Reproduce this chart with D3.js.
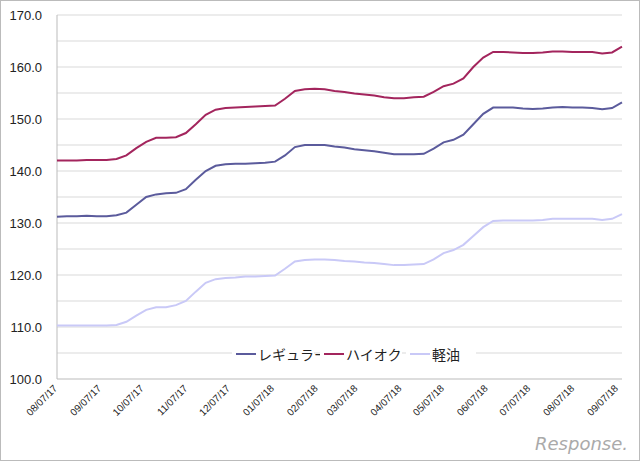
<!DOCTYPE html>
<html><head><meta charset="utf-8">
<script src="https://cdn.jsdelivr.net/npm/d3@7"></script>
<style>body{margin:0;background:#fff}svg{display:block}</style>
</head><body><svg id="c" width="640" height="461"></svg>
<script>
// weekly prices starting 2017-08-07
const startDate = new Date(2017, 7, 7);
const regular = [131.2,131.3,131.3,131.4,131.3,131.3,131.5,132.0,133.5,135.0,135.5,135.7,135.8,136.5,138.3,140.0,141.0,141.3,141.4,141.4,141.5,141.6,141.8,143.0,144.6,145.0,145.0,145.0,144.7,144.5,144.2,144.0,143.8,143.5,143.2,143.2,143.2,143.3,144.3,145.5,146.0,147.0,149.0,151.0,152.2,152.2,152.2,152.0,151.9,152.0,152.2,152.3,152.2,152.2,152.1,151.9,152.1,153.2];
const highOctane = [142.0,142.0,142.0,142.1,142.1,142.1,142.3,143.0,144.4,145.6,146.4,146.4,146.5,147.3,149.0,150.8,151.8,152.1,152.2,152.3,152.4,152.5,152.6,153.9,155.4,155.7,155.8,155.7,155.4,155.2,154.9,154.7,154.5,154.2,154.0,154.0,154.2,154.3,155.2,156.3,156.8,157.8,160.0,161.8,162.9,162.9,162.8,162.7,162.7,162.8,163.0,163.0,162.9,162.9,162.9,162.6,162.8,163.9];
const diesel = [110.3,110.3,110.3,110.3,110.3,110.3,110.4,111.0,112.2,113.3,113.8,113.8,114.2,115.0,116.8,118.5,119.2,119.4,119.5,119.7,119.7,119.8,119.9,121.2,122.6,122.9,123.0,123.0,122.9,122.7,122.6,122.4,122.3,122.1,121.9,121.9,122.0,122.1,123.0,124.2,124.8,125.8,127.5,129.2,130.4,130.5,130.5,130.5,130.5,130.6,130.8,130.8,130.8,130.8,130.8,130.6,130.8,131.7];
const seriesNames = ["レギュラー", "ハイオク", "軽油"];
const colors = ["#5b5b9c", "#a3255d", "#c9c9f7"];
const yTicks = [100,110,120,130,140,150,160,170];
const monthLabels = ["08/07/17","09/07/17","10/07/17","11/07/17","12/07/17","01/07/18","02/07/18","03/07/18","04/07/18","05/07/18","06/07/18","07/07/18","08/07/18","09/07/18"];

const dates = regular.map((d, i) => d3.timeDay.offset(startDate, 7 * i));
const series = [regular, highOctane, diesel];

const svg = d3.select("#c");
svg.append("rect").attr("x",0.5).attr("y",0.5).attr("width",639).attr("height",460)
  .attr("fill","#fff").attr("stroke","#bbb");

const plotL = 57, plotR = 622, plotT = 15, plotB = 379;
const x = d3.scaleTime().domain([startDate, dates[dates.length - 1]]).range([plotL, plotR]);
const y = d3.scaleLinear().domain([100, 170]).range([plotB, plotT]);

// gridlines every 5
svg.append("g").selectAll("line").data(d3.range(105, 171, 5)).enter().append("line")
  .attr("x1", plotL).attr("x2", plotR).attr("y1", d => y(d)).attr("y2", d => y(d))
  .attr("stroke", "#d9d9d9");

svg.append("line").attr("x1",plotL).attr("x2",plotL).attr("y1",plotT).attr("y2",plotB).attr("stroke","#bbb");
svg.append("line").attr("x1",plotL).attr("x2",plotR).attr("y1",plotB).attr("y2",plotB).attr("stroke","#bbb");

svg.append("g").selectAll("text").data(yTicks).enter().append("text")
  .attr("x", 42).attr("y", d => y(d) + 5).attr("text-anchor", "end")
  .attr("font-family", "Liberation Sans, Arial").attr("font-size", 13).attr("fill", "#222")
  .text(d => d.toFixed(1));

const labelDates = monthLabels.map((s, i) => d3.timeMonth.offset(startDate, i));
svg.append("g").selectAll("text").data(monthLabels).enter().append("text")
  .attr("transform", (d, i) => `translate(${x(labelDates[i]) + 1},${plotB + 10}) rotate(-45)`)
  .attr("text-anchor", "end")
  .attr("font-family", "Liberation Sans, Arial").attr("font-size", 10).attr("fill", "#222")
  .text(d => d);

const line = d3.line().x((d, i) => x(dates[i])).y(d => y(d));
series.forEach((s, k) => {
  svg.append("path").datum(s).attr("d", line).attr("fill", "none")
    .attr("stroke", colors[k]).attr("stroke-width", 2);
});

// legend
const legend = svg.append("g");
const legX = [236, 324, 410];
seriesNames.forEach((n, k) => {
  legend.append("rect").attr("x", legX[k] - 4).attr("y", 344).attr("width", k === 2 ? 70 : 82).attr("height", 20).attr("fill", "#fff");
  legend.append("line").attr("x1", legX[k]).attr("x2", legX[k] + 20).attr("y1", 354).attr("y2", 354)
    .attr("stroke", colors[k]).attr("stroke-width", 2);
  legend.append("text").attr("x", legX[k] + 22).attr("y", 360)
    .attr("font-family", "Noto Sans CJK JP").attr("font-size", 14).attr("fill", "#222").text(n);
});

svg.append("text").attr("x", 628).attr("y", 450).attr("text-anchor", "end")
  .attr("font-family", "DejaVu Sans").attr("font-size", 18).attr("fill", "#aaa")
  .attr("font-style", "italic").text("Response.");
</script></body></html>
